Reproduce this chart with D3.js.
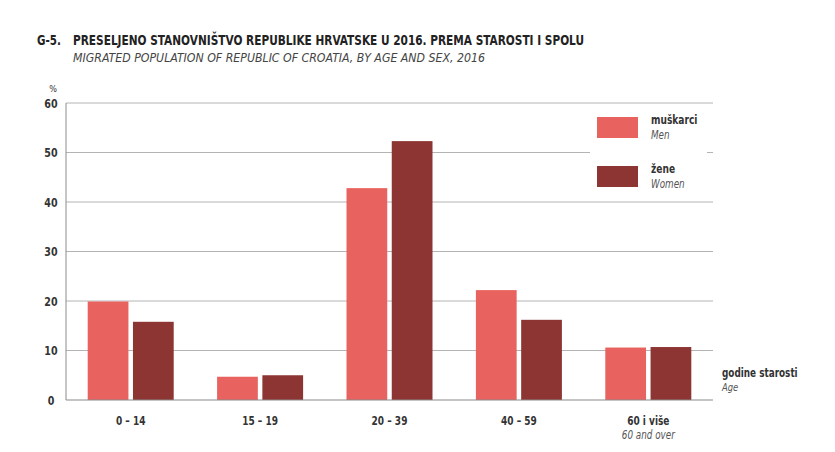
<!DOCTYPE html>
<html>
<head>
<meta charset="utf-8">
<script src="https://cdn.jsdelivr.net/npm/d3@7"></script>
<style>
  html, body { margin: 0; padding: 0; background: #fff; }
  svg { display: block; }
  text { font-family: "Liberation Sans Narrow", "DejaVu Sans Condensed", "Roboto", sans-serif; }
</style>
</head>
<body>
<svg id="chart" width="835" height="452"></svg>
<script>
const categories = ["0 – 14", "15 – 19", "20 – 39", "40 – 59", "60 i više"];
const categorySub = ["", "", "", "", "60 and over"];
const seriesNames = ["muškarci", "žene"];
const seriesNamesEn = ["Men", "Women"];
const men = [19.9, 4.7, 42.8, 22.2, 10.6];
const women = [15.8, 5.0, 52.3, 16.2, 10.7];
const yTicks = [0, 10, 20, 30, 40, 50, 60];
const colors = ["#E8625F", "#8C3533"];

(function () {
const svg = d3.select("#chart");
const pLeft = 66, pRight = 713, pTop = 103, pBottom = 400;

function condense(sel, f) {
  sel.each(function () {
    const w = this.getComputedTextLength();
    if (w > 0) d3.select(this).attr("textLength", w * f).attr("lengthAdjust", "spacingAndGlyphs");
  });
}

const x0 = d3.scaleBand().domain(categories).range([pLeft, pRight]).padding(0);
const x1 = d3.scaleBand().domain(seriesNames).range([21.7, 21.7 + 86]).paddingInner(0.1).paddingOuter(0);
const y = d3.scaleLinear().domain([0, 60]).range([pBottom, pTop]);

// gridlines
svg.append("g").selectAll("line").data(yTicks.filter(d => d > 0)).join("line")
  .attr("x1", pLeft).attr("x2", pRight)
  .attr("y1", d => y(d)).attr("y2", d => y(d))
  .attr("stroke", "#b4b4b4").attr("stroke-width", 1);

// legend background box (hides gridline)
svg.append("rect").attr("x", 590).attr("y", 108).attr("width", 117).attr("height", 90).attr("fill", "#fff");

// y axis labels
svg.append("g").selectAll("text").data(yTicks).join("text")
  .attr("x", 51).attr("y", d => y(d) + 4.5)
  .attr("text-anchor", "middle").attr("font-size", 12.5).attr("font-weight", "bold")
  .attr("fill", "#333").text(d => d).call(condense, 0.85);

svg.append("text").attr("x", 53).attr("y", 92).attr("text-anchor", "middle")
  .attr("font-size", 9).attr("fill", "#333").text("%");

// bars
const data = categories.map((c, i) => ({ cat: c, vals: [men[i], women[i]] }));
const groups = svg.append("g").selectAll("g").data(data).join("g")
  .attr("transform", d => `translate(${x0(d.cat)},0)`);
groups.selectAll("rect").data(d => d.vals.map((v, j) => ({ s: seriesNames[j], v, j }))).join("rect")
  .attr("x", d => x1(d.s)).attr("width", x1.bandwidth())
  .attr("y", d => y(d.v)).attr("height", d => y(0) - y(d.v))
  .attr("fill", d => colors[d.j]);

// axes lines
svg.append("line").attr("x1", pLeft).attr("x2", pLeft).attr("y1", pTop).attr("y2", pBottom)
  .attr("stroke", "#8a8a8a").attr("stroke-width", 1);
svg.append("line").attr("x1", pLeft).attr("x2", pRight).attr("y1", pBottom).attr("y2", pBottom)
  .attr("stroke", "#8a8a8a").attr("stroke-width", 1.2);

// x labels
svg.append("g").selectAll("text").data(categories).join("text")
  .attr("x", d => x0(d) + x0.bandwidth() / 2).attr("y", 425)
  .attr("text-anchor", "middle").attr("font-size", 12.5).attr("font-weight", "bold")
  .attr("fill", "#333").text(d => d).call(condense, 0.8);
svg.append("g").selectAll("text").data(categories).join("text")
  .attr("x", d => x0(d) + x0.bandwidth() / 2).attr("y", 439)
  .attr("text-anchor", "middle").attr("font-size", 11.5).attr("font-style", "italic")
  .attr("fill", "#555").text((d, i) => categorySub[i]).call(condense, 0.85);

// axis title
svg.append("text").attr("x", 722).attr("y", 377).attr("font-size", 12).attr("font-weight", "bold")
  .attr("fill", "#333").text("godine starosti").call(condense, 0.82);
svg.append("text").attr("x", 722).attr("y", 391).attr("font-size", 11).attr("font-style", "italic")
  .attr("fill", "#555").text("Age").call(condense, 0.85);

// legend
const legY = [117, 166];
seriesNames.forEach((s, i) => {
  svg.append("rect").attr("x", 597).attr("y", legY[i]).attr("width", 41).attr("height", 21)
    .attr("fill", colors[i]);
  svg.append("text").attr("x", 651).attr("y", legY[i] + 7).attr("font-size", 12).attr("font-weight", "bold")
    .attr("fill", "#333").text(s).call(condense, 0.84);
  svg.append("text").attr("x", 651).attr("y", legY[i] + 22).attr("font-size", 11.5).attr("font-style", "italic")
    .attr("fill", "#555").text(seriesNamesEn[i]).call(condense, 0.85);
});

// titles
svg.append("text").attr("x", 37).attr("y", 45).attr("font-size", 13.5).attr("font-weight", "bold")
  .attr("fill", "#222").text("G-5.").call(condense, 0.85);
svg.append("text").attr("x", 73).attr("y", 45).attr("font-size", 13.5).attr("font-weight", "bold")
  .attr("fill", "#222")
  .attr("textLength", 511).attr("lengthAdjust", "spacingAndGlyphs")
  .text("PRESELJENO STANOVNIŠTVO REPUBLIKE HRVATSKE U 2016. PREMA STAROSTI I SPOLU");
svg.append("text").attr("x", 73).attr("y", 62).attr("font-size", 12.5).attr("font-style", "italic")
  .attr("fill", "#444")
  .attr("textLength", 412).attr("lengthAdjust", "spacingAndGlyphs")
  .text("MIGRATED POPULATION OF REPUBLIC OF CROATIA, BY AGE AND SEX, 2016");
})();
</script>
</body>
</html>
